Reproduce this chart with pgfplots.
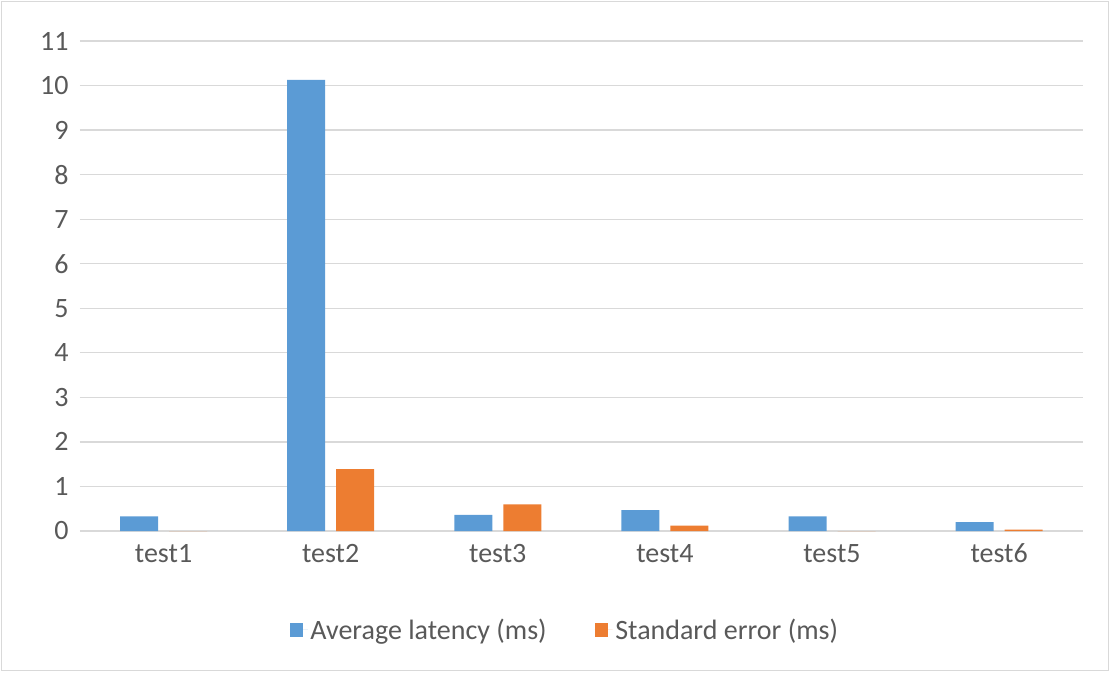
\documentclass[border=0pt]{standalone}
\usepackage{pgfplots}
\pgfplotsset{compat=1.18}
\usepackage{fontspec}
\setmainfont{Carlito}
\definecolor{xblue}{HTML}{5B9BD5}
\definecolor{xorange}{HTML}{ED7D31}
\definecolor{xgrid}{HTML}{D9D9D9}
\definecolor{xtext}{HTML}{595959}
\begin{document}
\begin{tikzpicture}
\useasboundingbox (-60pt,-105.75pt) rectangle (772.5pt,398.25pt);
\draw[xgrid, line width=0.9pt] (-58.9pt,-104.6pt) rectangle (771.4pt,397.1pt);
\begin{axis}[
  at={(0pt,0pt)}, anchor=south west,
  scale only axis, width=752pt, height=367.5pt,
  ymin=0, ymax=11, ytick={0,1,...,11},
  xmin=-0.5, xmax=5.5, xtick={0,...,5},
  xticklabels={test1,test2,test3,test4,test5,test6},
  axis line style={draw=none}, major tick style={draw=none},
  ymajorgrids, grid style={xgrid, line width=0.9pt},
  ybar=8.25pt, bar width=28.5pt,
  font=\fontsize{21pt}{25pt}\selectfont,
  ticklabel style={text=xtext, font=\fontsize{21pt}{25pt}\selectfont},
  /pgf/number format/assume math mode=true,
  yticklabel style={xshift=-5pt},
  xticklabel style={yshift=-2pt},
  legend style={at={(0.484,-0.202)}, anchor=center, draw=none, legend columns=2,
    text=xtext, font=\fontsize{21pt}{25pt}\selectfont,
    /tikz/every even column/.append style={column sep=34pt}},
  legend image code/.code={\fill[#1] (0pt,-5pt) rectangle (10pt,5pt); \path (0pt,0pt) -- (13.5pt,0pt);},
]
\addplot[fill=xblue, draw=none] coordinates {(0,0.33) (1,10.13) (2,0.36) (3,0.47) (4,0.33) (5,0.20)};
\addplot[fill=xorange, draw=none] coordinates {(0,0) (1,1.39) (2,0.60) (3,0.12) (4,0) (5,0.03)};
\legend{Average latency (ms), Standard error (ms)}
\end{axis}
\end{tikzpicture}
\end{document}
